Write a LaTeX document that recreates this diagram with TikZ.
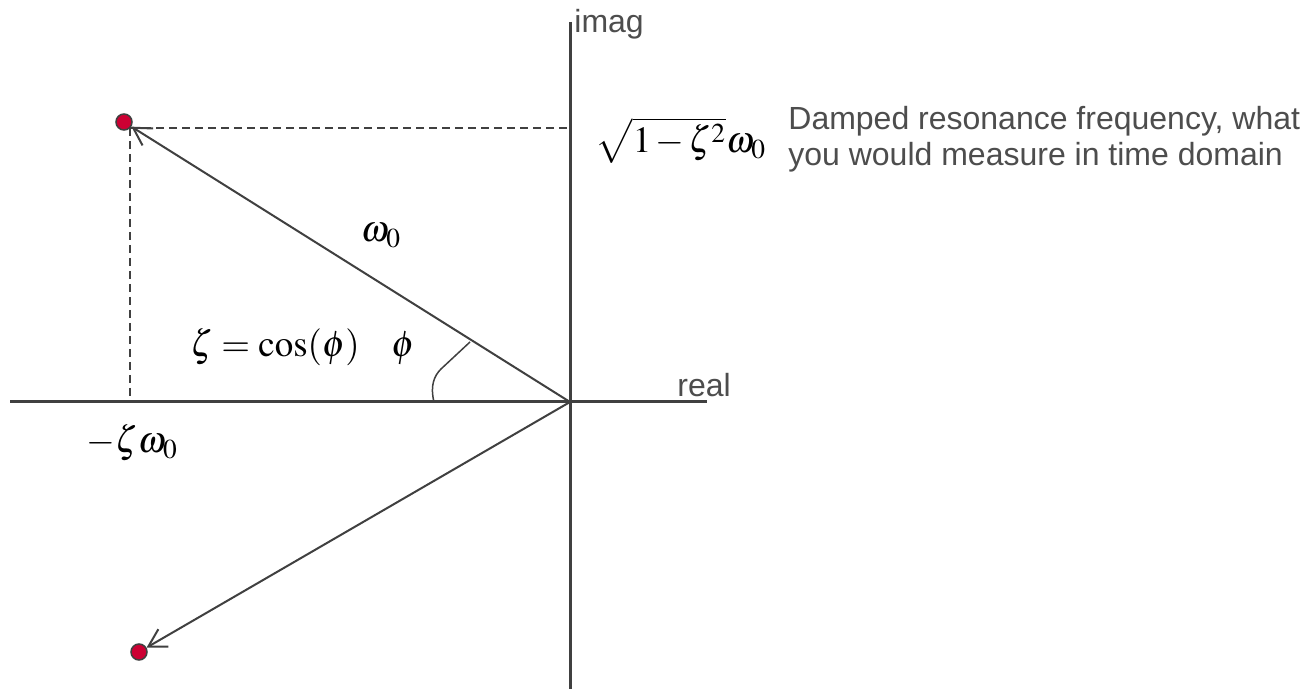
\documentclass[tikz,border=0pt]{standalone}
\usepackage{mathptmx}
\usepackage[no-math]{fontspec}
\setsansfont{Liberation Sans}
\usetikzlibrary{arrows.meta}
\definecolor{linegray}{HTML}{404040}
\definecolor{textgray}{HTML}{4D4D4D}
\definecolor{polered}{HTML}{CC0033}
\begin{document}
\begin{tikzpicture}[x=0.5pt,y=-0.5pt,
  axis/.style={draw=linegray,line width=1.5pt},
  vec/.style={draw=linegray,line width=1pt,-{Straight Barb[length=8.7pt,width=10pt]}},
  dashline/.style={draw=linegray,line width=1pt,dash pattern=on 4pt off 2.5pt},
  anglearc/.style={draw=linegray,line width=0.75pt},
  pole/.style={circle,draw=linegray,line width=0.75pt,fill=polered,minimum size=8pt,inner sep=0pt},
  lbl/.style={font=\sffamily\fontsize{16}{18}\selectfont,text=textgray,inner sep=0pt,anchor=base west},
  mth/.style={font=\fontsize{18.5}{20}\selectfont,inner sep=0pt,anchor=base},
]
\fill[white] (0,0) rectangle (1303,689);
\useasboundingbox (0,0) rectangle (1303,689);

% axes
\coordinate (O) at (570,402);
\coordinate (xl) at (10,402);
\coordinate (xr) at (707,402);
\coordinate (yt) at (570,22);
\coordinate (yb) at (570,689);
\draw[axis] (xl) -- (xr);
\draw[axis] (yt) -- (yb);

% poles
\node[pole] (p1) at (124,122) {};
\node[pole] (p2) at (139,652) {};

% dashed projections
\coordinate (d) at (130,128);
\draw[dashline] (d) -- (d -| O);
\draw[dashline] (d) -- (d |- O);

% vectors
\draw[vec] (O) -- (p1);
\draw[vec] (O) -- (p2);

% angle mark
\draw[anglearc] (434,402) .. controls (430,386) and (434,376) .. (441,369) -- (470,342);

% labels
\node[lbl] (imag) at (574,33) {imag};
\node[lbl] (real) at (677,397) {real};
\node[lbl,align=left] (damped) at (788,166) {Damped resonance frequency, what\\you would measure in time domain};

\node[mth] (w0) at (381,242) {$\omega_0$};
\node[mth] (zeta) at (275,357) {$\thickmuskip=4mu\zeta=\cos(\phi)$};
\node[mth] (phi) at (403,357) {$\phi$};
\node[mth] (mzw) at (132,453) {$-\zeta\omega_0$};
\node[mth] (wd) at (681,153) {$\medmuskip=2mu\sqrt{1-\zeta^2}\omega_0$};
\end{tikzpicture}
\end{document}
